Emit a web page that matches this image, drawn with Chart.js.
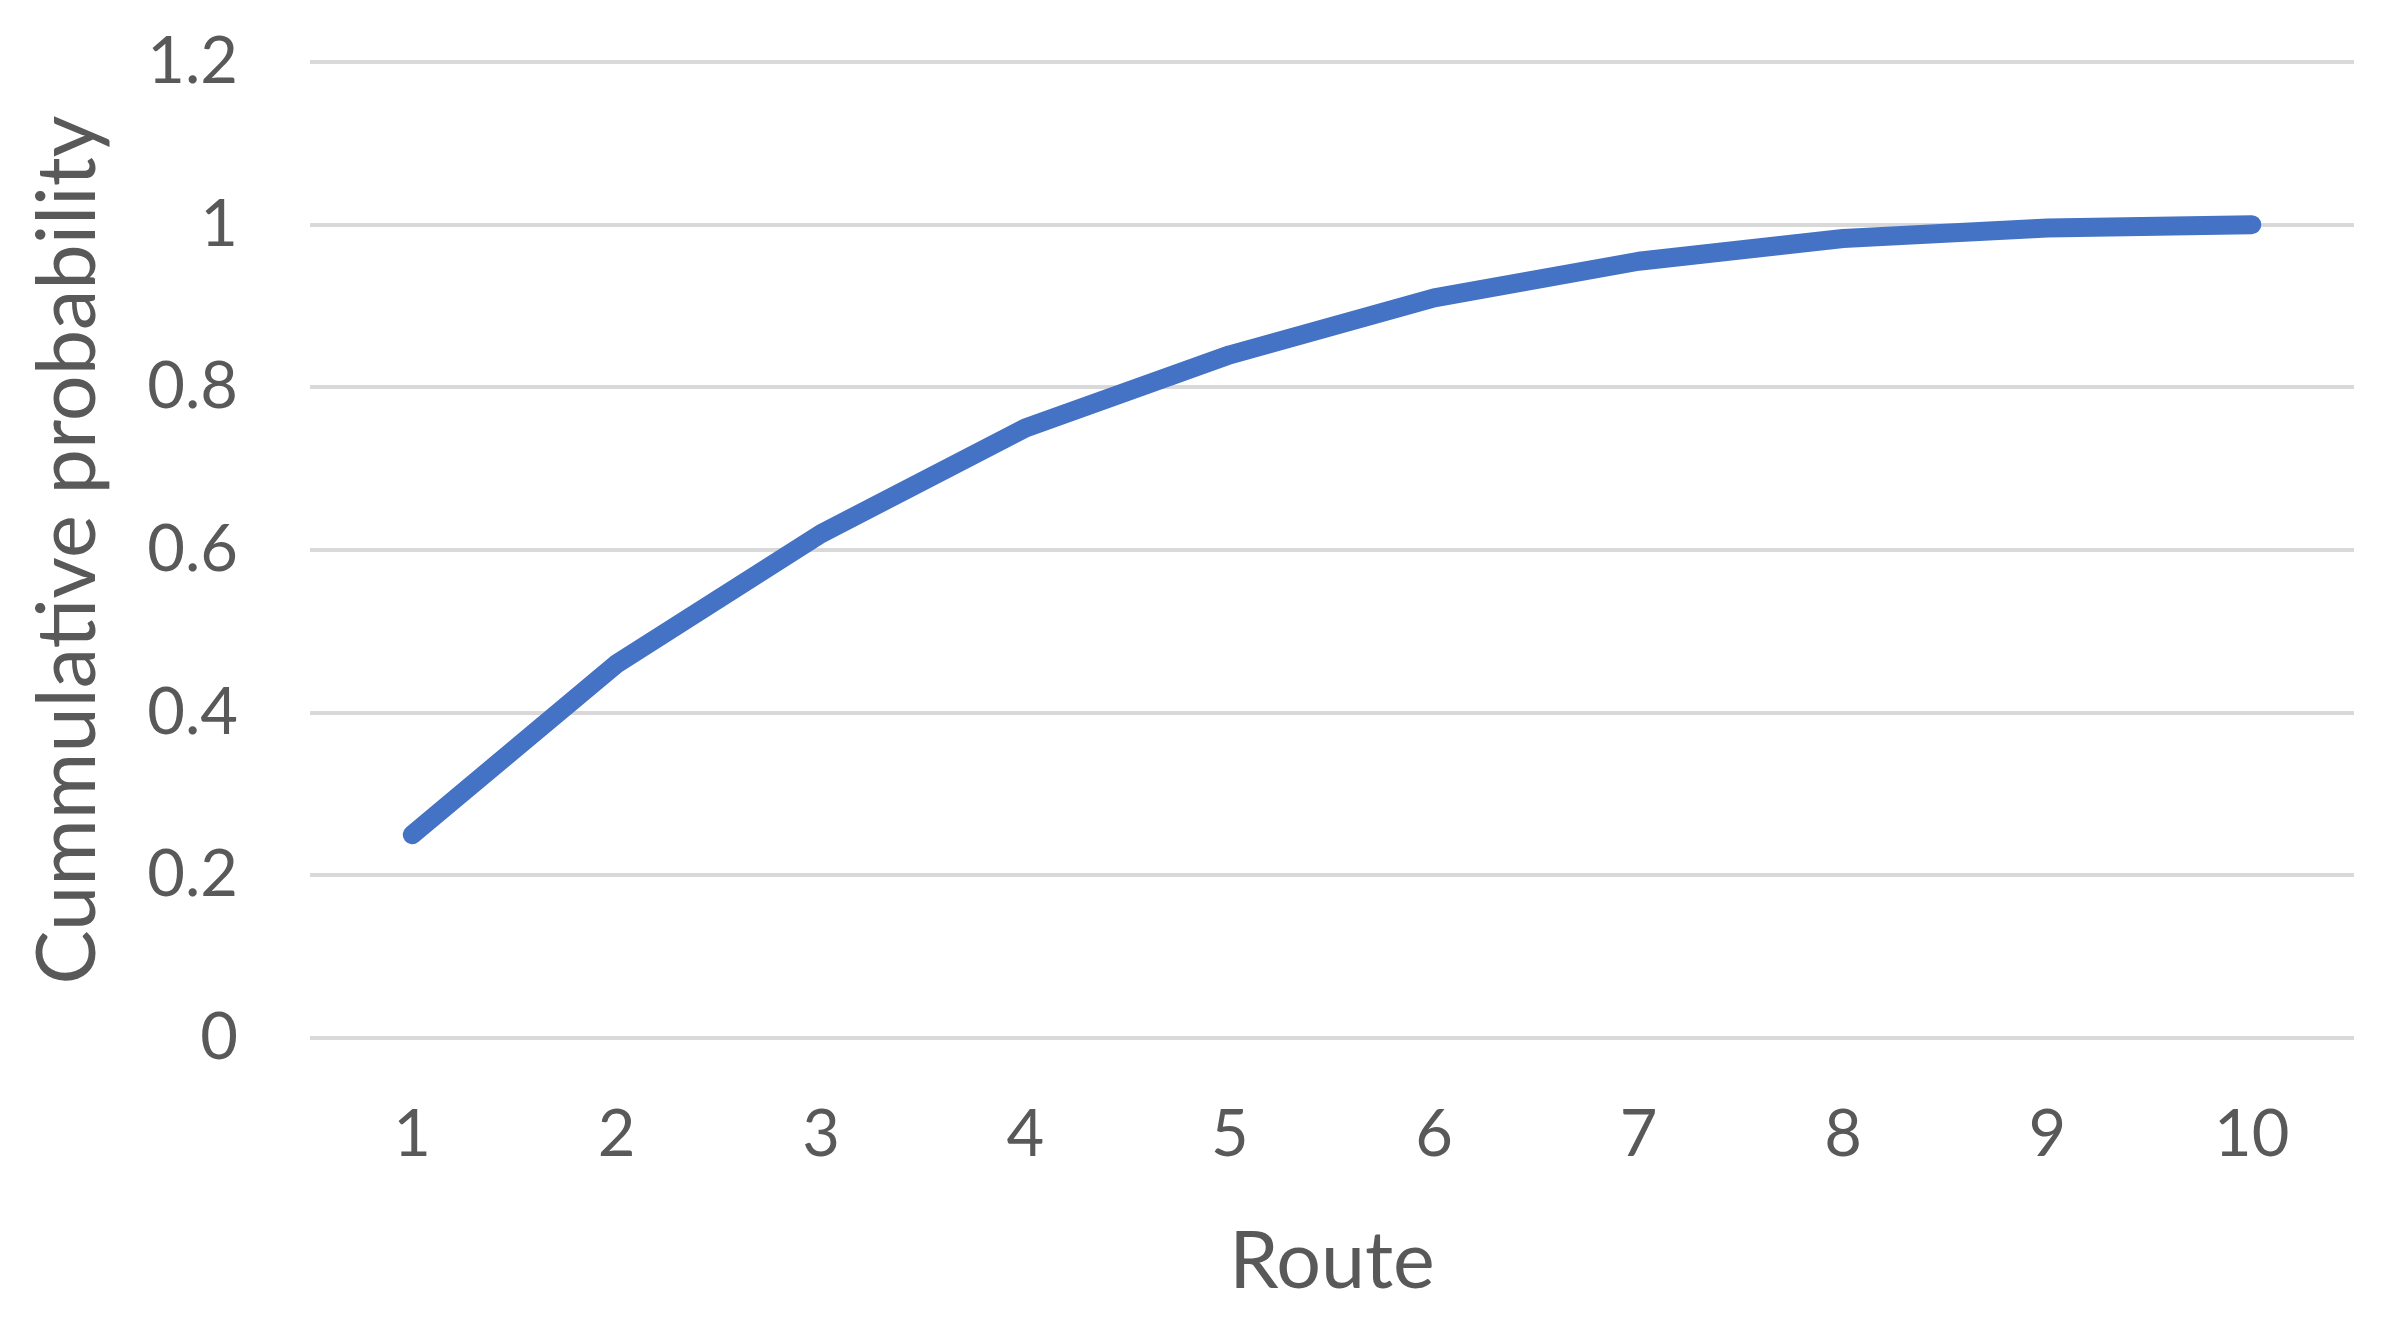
<!DOCTYPE html>
<html>
<head>
<meta charset="utf-8">
<script src="https://cdn.jsdelivr.net/npm/chart.js@4"></script>
<style>
  html, body { margin: 0; padding: 0; background: #fff; }
  #wrap { width: 2384px; height: 1320px; }
</style>
</head>
<body>
<div id="wrap"><canvas id="route-chart" width="2384" height="1320"></canvas></div>
<script>
const routes = ["1", "2", "3", "4", "5", "6", "7", "8", "9", "10"];
const cumulative = [0.25, 0.46, 0.62, 0.75, 0.84, 0.91, 0.955, 0.983, 0.996, 1.0];
const yTicks = [0, 0.2, 0.4, 0.6, 0.8, 1, 1.2];

const fontFamily = "Lato, 'Open Sans', sans-serif";
const textColor = "#595959";

const config = {
  type: "line",
  data: {
    labels: routes,
    datasets: [
      {
        label: "Cummulative probability",
        data: cumulative,
        borderColor: "#4472c4",
        borderWidth: 19,
        borderCapStyle: "round",
        borderJoinStyle: "round",
        pointRadius: 0,
        tension: 0,
        fill: false,
      },
    ],
  },
  options: {
    responsive: false,
    animation: false,
    layout: { padding: { top: 62, right: 30, left: 20, bottom: 10 } },
    plugins: {
      legend: { display: false },
      tooltip: { enabled: false },
    },
    scales: {
      x: {
        offset: true,
        grid: { display: false, drawTicks: false },
        border: { display: false },
        ticks: { color: textColor, font: { family: fontFamily, size: 65 }, padding: 58 },
        title: {
          display: true,
          text: "Route",
          color: textColor,
          font: { family: fontFamily, size: 79 },
          padding: { top: 16, bottom: 0 },
        },
        afterFit: (scale) => {
          scale.height = 272;
          scale.paddingLeft = 0;
          scale.paddingRight = 0;
        },
      },
      y: {
        min: 0,
        max: 1.2,
        afterBuildTicks: (scale) => { scale.ticks = yTicks.map((v) => ({ value: v })); },
        grid: { color: "#d9d9d9", lineWidth: 4, drawTicks: false },
        border: { display: false },
        ticks: {
          color: textColor,
          font: { family: fontFamily, size: 65 },
          padding: 72,
          callback: (v) => String(Math.round(v * 10) / 10),
        },
        title: {
          display: true,
          text: "Cummulative probability",
          color: textColor,
          font: { family: fontFamily, size: 81 },
          padding: { top: 0, bottom: 0 },
        },
        afterFit: (scale) => {
          scale.width = 290;
          scale.paddingTop = 0;
          scale.paddingBottom = 0;
        },
      },
    },
  },
};

const ctx = document.getElementById("route-chart").getContext("2d");
const routeChart = new Chart(ctx, config);
</script>
</body>
</html>
